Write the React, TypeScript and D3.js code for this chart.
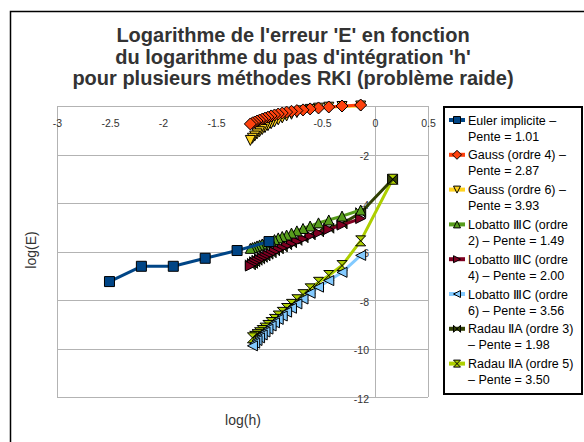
import React, { useEffect, useRef } from "react";
import * as d3 from "d3";

// log(h) for the fine step runs (N = 2..22)
const logHFine = [-0.135, -0.311, -0.436, -0.533, -0.612, -0.679, -0.737, -0.788, -0.834, -0.875, -0.913, -0.948, -0.98, -1.01, -1.038, -1.064, -1.089, -1.113, -1.135, -1.156, -1.176];
const logHLob6 = [-0.135, -0.311, -0.436, -0.533, -0.612, -0.679, -0.737, -0.788, -0.834, -0.875, -0.913, -0.948, -0.98, -1.01, -1.038, -1.064, -1.089, -1.113, -1.135, -1.156];
const logHRadau3 = [0.166, -0.135, -0.311, -0.436, -0.533, -0.612, -0.679, -0.737, -0.788, -0.834, -0.875, -0.913, -0.948, -0.98, -1.01, -1.038, -1.064, -1.089, -1.113, -1.135, -1.156, -1.176];
const logHRadau5 = [0.166, -0.135, -0.311, -0.436, -0.533, -0.612, -0.679, -0.737, -0.788, -0.834, -0.875, -0.913, -0.948, -0.98, -1.01, -1.038, -1.064, -1.089, -1.113, -1.135, -1.156];
const logHEuler = [-2.505, -2.204, -1.903, -1.602, -1.301, -1.0];

const eulerE = [-7.24, -6.61, -6.61, -6.28, -5.96, -5.59];
const gauss4E = [0.04, 0.0, -0.04, -0.08, -0.12, -0.16, -0.19, -0.22, -0.25, -0.29, -0.33, -0.37, -0.41, -0.46, -0.5, -0.54, -0.58, -0.62, -0.66, -0.7, -0.74];
const gauss6E = [0.0, -0.02, -0.05, -0.09, -0.14, -0.2, -0.27, -0.34, -0.41, -0.49, -0.57, -0.65, -0.73, -0.81, -0.89, -0.97, -1.06, -1.15, -1.24, -1.33, -1.42];
const lobatto2E = [-4.29, -4.54, -4.7, -4.82, -4.95, -5.05, -5.15, -5.24, -5.32, -5.38, -5.44, -5.51, -5.57, -5.61, -5.65, -5.69, -5.73, -5.77, -5.81, -5.84, -5.87];
const lobatto4E = [-4.64, -4.91, -5.09, -5.24, -5.36, -5.48, -5.59, -5.69, -5.77, -5.86, -5.94, -6.02, -6.1, -6.16, -6.23, -6.29, -6.35, -6.41, -6.47, -6.54, -6.6];
const lobatto6E = [-6.16, -6.86, -7.2, -7.47, -7.72, -7.96, -8.16, -8.34, -8.5, -8.66, -8.8, -8.94, -9.07, -9.2, -9.32, -9.44, -9.56, -9.67, -9.78, -9.89];
const radau3E = [-3.02, -4.4, -4.86, -5.04, -5.19, -5.31, -5.43, -5.54, -5.64, -5.72, -5.81, -5.89, -5.97, -6.05, -6.11, -6.18, -6.24, -6.3, -6.36, -6.42, -6.49, -6.55];
const radau5E = [-3.02, -5.56, -6.58, -6.99, -7.27, -7.54, -7.78, -7.99, -8.18, -8.35, -8.51, -8.66, -8.8, -8.93, -9.05, -9.16, -9.26, -9.35, -9.43, -9.5, -9.56];

const legendLabels = [
  ["Euler implicite –", "Pente = 1.01"],
  ["Gauss (ordre 4) –", "Pente = 2.87"],
  ["Gauss (ordre 6) –", "Pente = 3.93"],
  ["Lobatto ⅢC (ordre", "2) – Pente = 1.49"],
  ["Lobatto ⅢC (ordre", "4) – Pente = 2.00"],
  ["Lobatto ⅢC (ordre", "6) – Pente = 3.56"],
  ["Radau ⅡA (ordre 3)", "– Pente = 1.98"],
  ["Radau ⅡA (ordre 5)", "– Pente = 3.50"],
];
const titleLines = [
  "Logarithme de l'erreur 'E' en fonction",
  "du logarithme du pas d'intégration 'h'",
  "pour plusieurs méthodes RKI (problème raide)",
];
const xTicks = [-3, -2.5, -2, -1.5, -1, -0.5, 0, 0.5];
const yTicks = [-2, -4, -6, -8, -10, -12];

const series = [
  { xs: logHEuler, ys: eulerE, color: "#004586", shape: "square" },
  { xs: logHFine, ys: gauss4E, color: "#ff420e", shape: "diamond" },
  { xs: logHFine, ys: gauss6E, color: "#ffd320", shape: "down" },
  { xs: logHFine, ys: lobatto2E, color: "#579d1c", shape: "up" },
  { xs: logHFine, ys: lobatto4E, color: "#7e0021", shape: "right" },
  { xs: logHLob6, ys: lobatto6E, color: "#83caff", shape: "left" },
  { xs: logHRadau3, ys: radau3E, color: "#314004", shape: "bowtie" },
  { xs: logHRadau5, ys: radau5E, color: "#aecf00", shape: "hourglass" },
];

const markerPath = (shape, r) => {
  switch (shape) {
    case "square":
      return `M${-r},${-r}H${r}V${r}H${-r}Z`;
    case "diamond":
      return `M0,${-r - 1}L${r + 1},0L0,${r + 1}L${-r - 1},0Z`;
    case "down":
      return `M${-r},${-r}L${r},${-r}L0,${r}Z`;
    case "up":
      return `M0,${-r}L${r},${r}L${-r},${r}Z`;
    case "right":
      return `M${-r},${-r}L${r},0L${-r},${r}Z`;
    case "left":
      return `M${r},${-r}L${-r},0L${r},${r}Z`;
    case "bowtie":
      return `M${-r},${-r}L${r},${r}L${r},${-r}L${-r},${r}Z`;
    default:
      return `M${-r},${-r}L${r},${-r}L${-r},${r}L${r},${r}Z`;
  }
};

const W = 584;
const H = 442;

const App = () => {
  const svgRef = useRef(null);

  useEffect(() => {
    const svg = d3.select(svgRef.current);
    svg.selectAll("*").remove();
    const font = "'Liberation Sans', Arial, sans-serif";

    svg.append("rect").attr("width", W).attr("height", H).attr("fill", "#fff");
    svg
      .append("rect")
      .attr("x", 10.5)
      .attr("y", 11.5)
      .attr("width", 700)
      .attr("height", 600)
      .attr("fill", "none")
      .attr("stroke", "#000")
      .attr("stroke-width", 1.5);

    const x = d3.scaleLinear().domain([-3, 0.5]).range([57, 428]);
    const y = d3.scaleLinear().domain([0, -12]).range([106, 397]);

    // title
    svg
      .append("g")
      .selectAll("text")
      .data(titleLines)
      .enter()
      .append("text")
      .attr("x", 293)
      .attr("y", (d, i) => 42 + i * 21.5)
      .attr("text-anchor", "middle")
      .style("font-family", font)
      .style("font-size", "20px")
      .style("font-weight", "bold")
      .attr("fill", "#333")
      .text((d) => d);

    // grid
    const grid = svg.append("g").attr("stroke", "#b3b3b3").attr("stroke-width", 1);
    [0, ...yTicks].forEach((t) => {
      grid.append("line").attr("x1", x(-3)).attr("x2", x(0.5)).attr("y1", Math.round(y(t)) + 0.5).attr("y2", Math.round(y(t)) + 0.5);
    });
    [-3, 0, 0.5].forEach((t) => {
      grid.append("line").attr("x1", Math.round(x(t)) + 0.5).attr("x2", Math.round(x(t)) + 0.5).attr("y1", y(0)).attr("y2", y(-12));
    });

    // axes (labels only)
    const xAxis = svg
      .append("g")
      .attr("transform", `translate(0,${y(0)})`)
      .call(d3.axisBottom(x).tickValues(xTicks).tickSize(0).tickPadding(14).tickFormat((d) => String(d)));
    const yAxis = svg
      .append("g")
      .attr("transform", `translate(${x(0)},0)`)
      .call(d3.axisLeft(y).tickValues(yTicks).tickSize(0).tickPadding(6).tickFormat((d) => String(d)));
    [xAxis, yAxis].forEach((a) => {
      a.select(".domain").remove();
      a.selectAll("text").attr("fill", "#333").style("font-family", font).style("font-size", "10.5px");
    });
    yAxis.selectAll("text").attr("dy", "0.5em");

    // axis titles
    svg
      .append("text")
      .attr("transform", "translate(36,250) rotate(-90)")
      .attr("text-anchor", "middle")
      .style("font-family", font)
      .style("font-size", "14px")
      .attr("fill", "#333")
      .text("log(E)");
    svg
      .append("text")
      .attr("x", 243)
      .attr("y", 425)
      .attr("text-anchor", "middle")
      .style("font-family", font)
      .style("font-size", "14px")
      .attr("fill", "#333")
      .text("log(h)");

    // series, last legend entry drawn first
    const line = d3
      .line()
      .x((d) => x(d[0]))
      .y((d) => y(d[1]));
    series
      .slice()
      .reverse()
      .forEach((s) => {
        const pts = s.xs.map((v, i) => [v, s.ys[i]]);
        const g = svg.append("g");
        g.append("path")
          .attr("d", line(pts))
          .attr("fill", "none")
          .attr("stroke", s.color)
          .attr("stroke-width", 3)
          .attr("stroke-linejoin", "round");
        g.selectAll(".m")
          .data(pts)
          .enter()
          .append("path")
          .attr("transform", (d) => `translate(${x(d[0])},${y(d[1])})`)
          .attr("d", markerPath(s.shape, 5))
          .attr("fill", s.color)
          .attr("stroke", "#000")
          .attr("stroke-width", 1);
      });

    // legend
    const lg = svg.append("g");
    lg.append("rect")
      .attr("x", 444)
      .attr("y", 107)
      .attr("width", 138)
      .attr("height", 287)
      .attr("fill", "#fff")
      .attr("stroke", "#000")
      .attr("stroke-width", 2);
    series.forEach((s, i) => {
      const cy = 120 + i * 34.8;
      lg.append("line")
        .attr("x1", 449)
        .attr("x2", 465)
        .attr("y1", cy)
        .attr("y2", cy)
        .attr("stroke", s.color)
        .attr("stroke-width", 4);
      lg.append("path")
        .attr("transform", `translate(457,${cy})`)
        .attr("d", markerPath(s.shape, 3.5))
        .attr("fill", s.color)
        .attr("stroke", "#000")
        .attr("stroke-width", 1);
      legendLabels[i].forEach((t, j) => {
        lg.append("text")
          .attr("x", 468)
          .attr("y", cy + 4.5 + j * 16)
          .style("font-family", font)
          .style("font-size", "12.5px")
          .attr("fill", "#000")
          .text(t);
      });
    });
  }, []);

  return (
    <svg
      ref={svgRef}
      width={W}
      height={H}
      style={{ position: "absolute", left: 0, top: 0, display: "block" }}
    ></svg>
  );
};

export default App;
